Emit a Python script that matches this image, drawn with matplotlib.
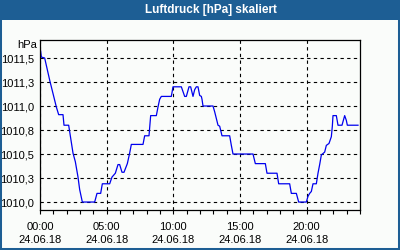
import matplotlib
matplotlib.use("Agg")
import matplotlib.pyplot as plt
from matplotlib.patches import Rectangle
from matplotlib.ticker import MultipleLocator

# pressure trace (hour of day, hPa)
hours = [0.05, 0.1, 0.35, 0.725, 0.975, 1.225, 1.4, 1.725, 1.8, 2.15, 2.475, 2.65,
         2.85, 2.975, 3.175, 4.1, 4.275, 4.55, 4.675, 5.225, 5.4, 5.65, 5.85, 5.975,
         6.15, 6.3, 6.55, 6.725, 6.85, 7.725, 7.85, 8.175, 8.3, 8.725, 8.85, 8.975,
         9.1, 9.85, 9.975, 10.6, 10.85, 10.975, 11.175, 11.3, 11.475, 11.6, 11.725,
         11.85, 11.975, 12.1, 12.15, 12.225, 12.975, 13.1, 13.225, 13.35, 13.475,
         13.65, 14.225, 14.35, 14.475, 15.975, 16.15, 16.9, 17.025, 17.775, 17.9,
         18.725, 18.85, 19.225, 19.4, 19.975, 20.1, 20.225, 20.35, 20.475, 20.725,
         20.85, 20.975, 21.1, 21.35, 21.475, 21.675, 21.85, 21.925, 21.975, 22.225,
         22.35, 22.65, 22.85, 22.975, 23.05, 23.85]
pressure = [1011.57, 1011.51, 1011.50, 1011.27, 1011.13, 1010.99, 1010.91, 1010.91,
            1010.80, 1010.80, 1010.51, 1010.42, 1010.26, 1010.13, 1010.00, 1010.00,
            1010.09, 1010.09, 1010.19, 1010.19, 1010.26, 1010.30, 1010.39, 1010.39,
            1010.31, 1010.31, 1010.40, 1010.51, 1010.60, 1010.60, 1010.69, 1010.69,
            1010.90, 1010.90, 1010.99, 1011.07, 1011.10, 1011.10, 1011.20, 1011.20,
            1011.10, 1011.10, 1011.20, 1011.20, 1011.10, 1011.17, 1011.20, 1011.20,
            1011.11, 1011.10, 1011.07, 1011.00, 1011.00, 1010.94, 1010.87, 1010.80,
            1010.79, 1010.69, 1010.69, 1010.59, 1010.50, 1010.50, 1010.40, 1010.40,
            1010.30, 1010.30, 1010.19, 1010.19, 1010.09, 1010.09, 1010.00, 1010.00,
            1010.06, 1010.09, 1010.11, 1010.19, 1010.19, 1010.30, 1010.39, 1010.49,
            1010.52, 1010.59, 1010.61, 1010.68, 1010.79, 1010.90, 1010.90, 1010.80,
            1010.80, 1010.90, 1010.85, 1010.80, 1010.80]

y_ticks = [1010.0, 1010.25, 1010.5, 1010.75, 1011.0, 1011.25, 1011.5]
y_labels = ["1010,0", "1010,3", "1010,5", "1010,8", "1011,0", "1011,3", "1011,5"]
x_ticks = [0, 5, 10, 15, 20]
x_labels = ["00:00\n24.06.18", "05:00\n24.06.18", "10:00\n24.06.18",
            "15:00\n24.06.18", "20:00\n24.06.18"]

bar_blue = "#1d5e94"
bg = "#fafcfa"

plt.rcParams['font.family'] = ['Liberation Sans', 'DejaVu Sans']

fig = plt.figure(figsize=(4, 2.5), dpi=100, facecolor=bg)
ax = fig.add_axes([0.1, 0.16, 0.8, 0.68], facecolor=bg)

ax.plot(hours, pressure, color="#0000ee", lw=0.9)

ax.set_xlim(0, 24)
ax.set_ylim(1009.917, 1011.6875)
ax.set_xticks(x_ticks)
ax.set_xticklabels(x_labels, fontsize=8, linespacing=1.35)
ax.xaxis.set_minor_locator(MultipleLocator(1))
ax.set_yticks(y_ticks)
ax.set_yticklabels(y_labels, fontsize=8)
ax.tick_params(axis='x', which='both', direction='out', length=3, width=0.8, pad=6)
ax.tick_params(axis='y', length=0, pad=4)
ax.grid(True, which='major', color='black', lw=0.8, linestyle=(0, (3, 3)))
for s in ax.spines.values():
    s.set_color('black')
    s.set_linewidth(0.9)

fig.text(0.092, 0.82, "hPa", ha='right', va='center', fontsize=8)

# title bar and outer frame
fig.patches.append(Rectangle((0, 0.92), 1, 0.08, transform=fig.transFigure,
                             facecolor=bar_blue, edgecolor='none', zorder=0))
fig.patches.append(Rectangle((0, 0), 1, 1, transform=fig.transFigure,
                             fill=False, edgecolor=bar_blue, lw=2.9, zorder=5))
fig.text(0.5275, 0.96, "Luftdruck [hPa] skaliert", ha='center', va='center',
         fontsize=8.5, fontweight='bold', color='white')

fig.savefig("out.png", dpi=100, facecolor=bg)
